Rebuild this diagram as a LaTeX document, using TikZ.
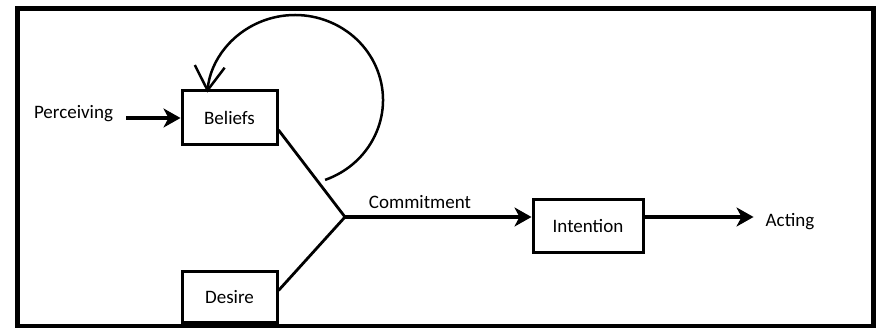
\documentclass[tikz,border=0pt]{standalone}
\usepackage{fontspec}
\setmainfont{Carlito}
\usetikzlibrary{positioning}
\usetikzlibrary{arrows.meta}

\tikzset{
  box/.style={draw=black, fill=white, line width=3pt, minimum width=95pt, minimum height=54pt, inner sep=0pt, font=\fontsize{19}{22}\selectfont},
  lbl/.style={inner sep=0pt, text=black, font=\fontsize{19}{22}\selectfont},
  thickarrow/.style={black, line width=4.8pt, -{Stealth[length=17pt,width=19pt,inset=5pt]}},
  joinline/.style={black, line width=2.8pt},
  loopline/.style={black, line width=2.5pt, -{Straight Barb[length=24pt,width=30pt]}}
}

\begin{document}
\begin{tikzpicture}[x=1pt,y=1pt]
\useasboundingbox (0,0) rectangle (878,328);

% frame
\draw[black, line width=5pt] (17.5,1) rectangle (873.5,319.5);

% boxes
{
\node[box] (beliefs) at (229.5,210) {Beliefs};
\node[box, minimum height=51pt] (desire) at (229.5,30.5) {Desire};
\node[box, minimum width=110pt, minimum height=53pt] (intention) at (588,101.5) {Intention};
}

% labellings
{
\node[lbl] (perc) at (73.5,214) {Perceiving};
\node[lbl] (commit) at (420,126) {Commitment};
\node[lbl] (acting) at (790,106) {Acting};
}

\coordinate (junc) at (345,111);
\coordinate (loopstart) at (325.1,148.1);

% arrows
{
\draw[thickarrow, shorten <=13pt] (perc.east |- beliefs.west) -- (beliefs.west);
\draw[joinline] ([yshift=-12pt]beliefs.east) -- (junc);
\draw[joinline] ([yshift=7pt]desire.east) -- (junc);
\draw[thickarrow] (junc) -- (junc -| intention.west);
\draw[thickarrow, shorten >=12pt] (intention.east |- junc) -- (acting.west |- junc);
\draw[loopline] (loopstart) arc[start angle=-70, end angle=175, x radius=88pt, y radius=85pt];
}

\end{tikzpicture}
\end{document}
